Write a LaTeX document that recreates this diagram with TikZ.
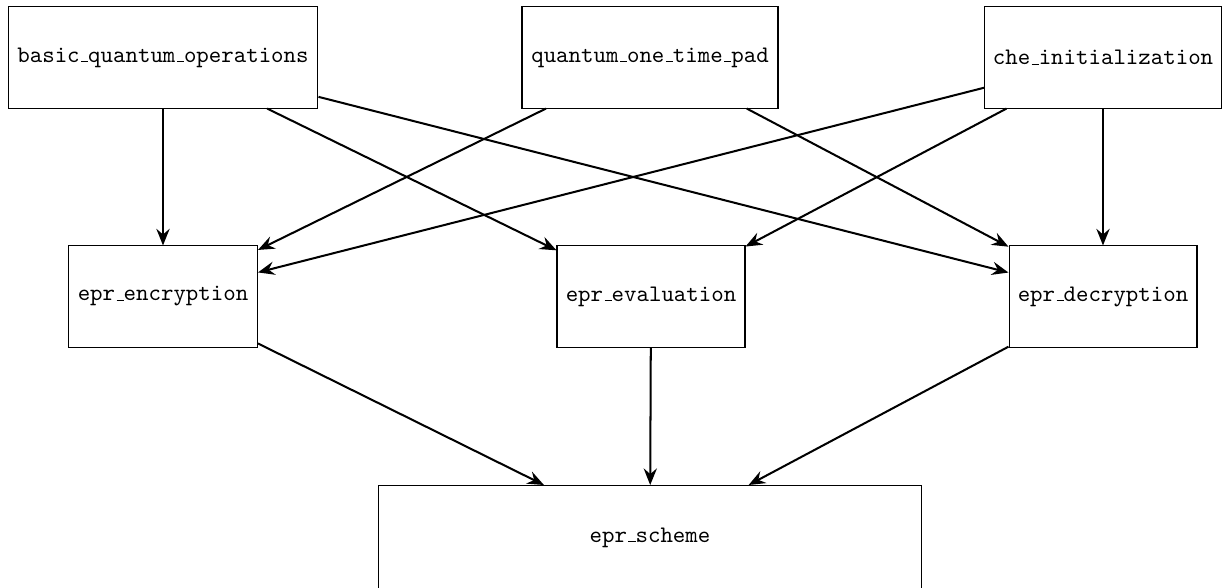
\documentclass[tikz,border=0pt]{standalone}
\usetikzlibrary{arrows.meta}
% low, short underscore as in classic typewriter text
\newcommand{\usc}{\leavevmode\kern.06em\vbox{\hrule width.3em height .4pt}}
\tikzset{
  module/.style={draw, rectangle, inner sep=0pt, line width=0.45pt,
    minimum height=42.6pt, font=\ttfamily},
  dep/.style={-{Stealth[length=7pt, width=5.6pt, inset=2.4pt]}, line width=0.85pt}
}
\begin{document}
\begin{tikzpicture}[x=0.4214pt, y=-0.4214pt]
  \useasboundingbox (0,0) rectangle (1228,587);

  % top row: base modules
  \node[module, minimum width=130.6pt] (basic) at (163,57.5) {basic\usc quantum\usc operations};
  \node[module, minimum width=107.9pt] (otp) at (650,57.5) {quantum\usc one\usc time\usc pad};
  \node[module, minimum width=99.5pt] (init) at (1103,57.5) {che\usc initialization};

  % middle row: EPR components
  \node[module, minimum width=79.6pt] (enc) at (163,296.5) {epr\usc encryption};
  \node[module, minimum width=79.2pt] (eval) at (651,296.5) {epr\usc evaluation};
  \node[module, minimum width=79.2pt] (dec) at (1103,296.5) {epr\usc decryption};

  % bottom: full scheme
  \node[module, minimum width=229.2pt, minimum height=43.8pt] (scheme) at (650,537.5) {epr\usc scheme};

  % dependencies
  \draw[dep] (basic) -- (enc);
  \draw[dep] (basic) -- (eval);
  \draw[dep] (basic) -- (dec);
  \draw[dep] (otp) -- (enc);
  \draw[dep] (otp) -- (dec);
  \draw[dep] (init) -- (enc);
  \draw[dep] (init) -- (eval);
  \draw[dep] (init) -- (dec);
  \draw[dep] (enc) -- (scheme);
  \draw[dep] (eval) -- (scheme);
  \draw[dep] (dec) -- (scheme);
\end{tikzpicture}
\end{document}
